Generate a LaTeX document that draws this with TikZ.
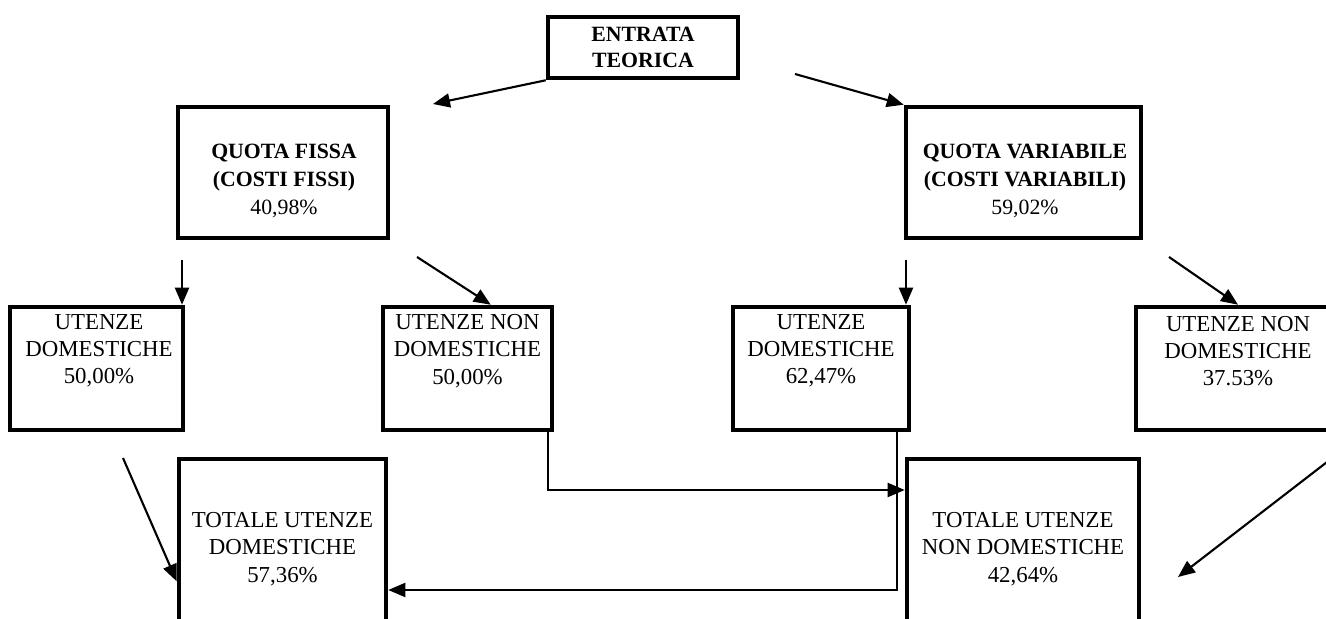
\documentclass[tikz,border=0pt]{standalone}
\usepackage{fontspec}
\setmainfont{Liberation Serif}
\usepackage{tikz}
\usetikzlibrary{positioning, arrows.meta}

\begin{document}
\begin{tikzpicture}[
  box/.style={draw, line width=2.6pt, inner sep=0pt, align=center, font=\fontsize{13}{15.8}\selectfont},
  bbox/.style={box, font=\bfseries\fontsize{12.4}{14.7}\selectfont},
  txt/.style={align=center, inner sep=0pt, font=\fontsize{13}{15.5}\selectfont},
  btxt/.style={txt, font=\bfseries\fontsize{12.4}{15.8}\selectfont},
  arr/.style={-{Triangle[length=0.34cm, width=0.28cm]}, line width=1.2pt}
]
\useasboundingbox (0,0) rectangle (26.52,12.38);
\clip (0,0) rectangle (26.52,12.38);
% entrata teorica
\node[bbox, minimum width=3.8cm, minimum height=1.22cm] (ent) at (12.86,11.43) {ENTRATA\\TEORICA};
% quota fissa / quota variabile
\node[box, minimum width=4.2cm, minimum height=2.62cm] (qf) at (5.66,8.93) {};
\node[btxt] (qft) at (5.68,8.76) {QUOTA FISSA\\(COSTI FISSI)\\\mdseries 40,98\%};
\node[box, minimum width=4.7cm, minimum height=2.62cm] (qv) at (20.47,8.93) {};
\node[btxt] (qvt) at (20.5,8.76) {QUOTA VARIABILE\\(COSTI VARIABILI)\\\mdseries 59,02\%};
% utenze
\node[box, minimum width=3.46cm, minimum height=2.46cm] (ud1) at (1.93,5.01) {};
\node[txt] (ud1t) at (1.98,5.36) {UTENZE\\DOMESTICHE\\50,00\%};
\node[box, minimum width=3.38cm, minimum height=2.46cm] (un1) at (9.35,5.01) {};
\node[txt] (un1t) at (9.35,5.36) {UTENZE NON\\DOMESTICHE\\50,00\%};
\node[box, minimum width=3.52cm, minimum height=2.46cm] (ud2) at (16.42,5.01) {};
\node[txt] (ud2t) at (16.42,5.36) {UTENZE\\DOMESTICHE\\62,47\%};
\node[box, minimum width=4.08cm, minimum height=2.46cm] (un2) at (24.76,5.01) {};
\node[txt] (un2t) at (24.76,5.36) {UTENZE NON\\DOMESTICHE\\37.53\%};
% totali
\node[box, minimum width=4.14cm, minimum height=3.6cm] (td) at (5.65,1.4) {TOTALE UTENZE\\DOMESTICHE\\57,36\%};
\node[box, minimum width=4.64cm, minimum height=3.6cm] (tn) at (20.46,1.4) {TOTALE UTENZE\\NON DOMESTICHE\\42,64\%};
% frecce
\coordinate (a1) at (8.66,10.30);
\coordinate (a2) at (15.9,10.9);
\coordinate (a3) at (3.64,7.18);
\coordinate (a4) at (8.34,7.24);
\coordinate (a5) at (18.12,7.18);
\coordinate (a6) at (23.38,7.24);
\coordinate (a7) at (2.46,3.22);
\coordinate (a8) at (10.96,2.58);
\coordinate (a9) at (17.94,0.58);
\coordinate (a10) at (26.8,3.34);
\coordinate (a10b) at (23.56,0.84);
\draw[arr] (ent.south west) -- (a1);
\draw[arr] (a2) -- (qv.north west);
\draw[arr] (a3) -- (a3 |- ud1.north);
\draw[arr] (a4) -- (un1.70);
\draw[arr] (a5) -- (a5 |- ud2.north);
\draw[arr] (a6) -- (un2.north);
\draw[arr] (a7) -- (td.197);
\draw[arr] (a8 |- un1.south) -- (a8) -- (a8 -| tn.west);
\draw[arr] (a9 |- ud2.south) -- (a9) -- (a9 -| td.east);
\draw[arr] (a10) -- (a10b);
\end{tikzpicture}
\end{document}
